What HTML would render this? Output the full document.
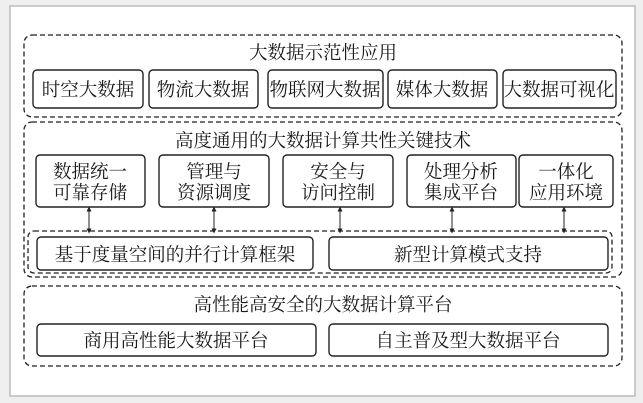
<!DOCTYPE html>
<html><head><meta charset="utf-8"><style>
html,body{margin:0;padding:0;background:#efefef;}
svg{display:block;}
text{font-family:"Noto Serif CJK SC","Liberation Serif",serif;font-size:18.5px;fill:#1a1a1a;text-anchor:middle;}
</style></head><body>
<svg width="643" height="403" viewBox="0 0 643 403" xmlns="http://www.w3.org/2000/svg">
<defs>
<marker id="a" viewBox="0 0 6 6" refX="3" refY="3" markerWidth="5" markerHeight="5" orient="auto-start-reverse"><path d="M0,0 L6,3 L0,6 z" fill="#222"/></marker>
</defs>
<rect x="10" y="6" width="625" height="390" fill="#fff" stroke="#bbb" stroke-width="1.5"/>
<g fill="none" stroke="#222" stroke-width="1.3" stroke-dasharray="5,3">
<rect x="24" y="35" width="598" height="82" rx="8"/>
<rect x="24" y="122" width="598" height="155" rx="8"/>
<rect x="28" y="231" width="584" height="42" rx="6"/>
<rect x="24" y="286" width="598" height="80" rx="8"/>
</g>
<g fill="#fff" stroke="#222" stroke-width="1.4">
<rect x="33" y="70" width="110" height="38" rx="4"/>
<rect x="149" y="70" width="109" height="38" rx="4"/>
<rect x="268" y="70" width="115" height="38" rx="4"/>
<rect x="388" y="70" width="109" height="38" rx="4"/>
<rect x="503" y="70" width="113" height="38" rx="4"/>
<rect x="36" y="155" width="109" height="52" rx="4"/>
<rect x="159" y="155" width="110" height="52" rx="4"/>
<rect x="283" y="155" width="110" height="52" rx="4"/>
<rect x="407" y="155" width="109" height="52" rx="4"/>
<rect x="519" y="155" width="94" height="52" rx="4"/>
<rect x="37" y="237" width="276" height="33" rx="4"/>
<rect x="329" y="237" width="279" height="33" rx="4"/>
<rect x="37" y="324" width="279" height="32" rx="4"/>
<rect x="329" y="324" width="279" height="32" rx="4"/>
</g>
<g stroke="#222" stroke-width="1" marker-start="url(#a)" marker-end="url(#a)">
<line x1="89" y1="209" x2="89" y2="231"/>
<line x1="214" y1="209" x2="214" y2="231"/>
<line x1="340" y1="209" x2="340" y2="231"/>
<line x1="452" y1="209" x2="452" y2="231"/>
<line x1="564" y1="209" x2="564" y2="231"/>
</g>
<text x="323" y="59">大数据示范性应用</text>
<text x="88" y="96">时空大数据</text>
<text x="203" y="96">物流大数据</text>
<text x="325" y="96">物联网大数据</text>
<text x="442" y="96">媒体大数据</text>
<text x="559" y="96">大数据可视化</text>
<text x="323" y="147">高度通用的大数据计算共性关键技术</text>
<text x="90" y="178">数据统一</text><text x="90" y="199">可靠存储</text>
<text x="214" y="178">管理与</text><text x="214" y="199">资源调度</text>
<text x="338" y="178">安全与</text><text x="338" y="199">访问控制</text>
<text x="461" y="178">处理分析</text><text x="461" y="199">集成平台</text>
<text x="566" y="178">一体化</text><text x="566" y="199">应用环境</text>
<text x="175" y="261">基于度量空间的并行计算框架</text>
<text x="468" y="261">新型计算模式支持</text>
<text x="323" y="311">高性能高安全的大数据计算平台</text>
<text x="176" y="347">商用高性能大数据平台</text>
<text x="468" y="347">自主普及型大数据平台</text>
</svg>
</body></html>
